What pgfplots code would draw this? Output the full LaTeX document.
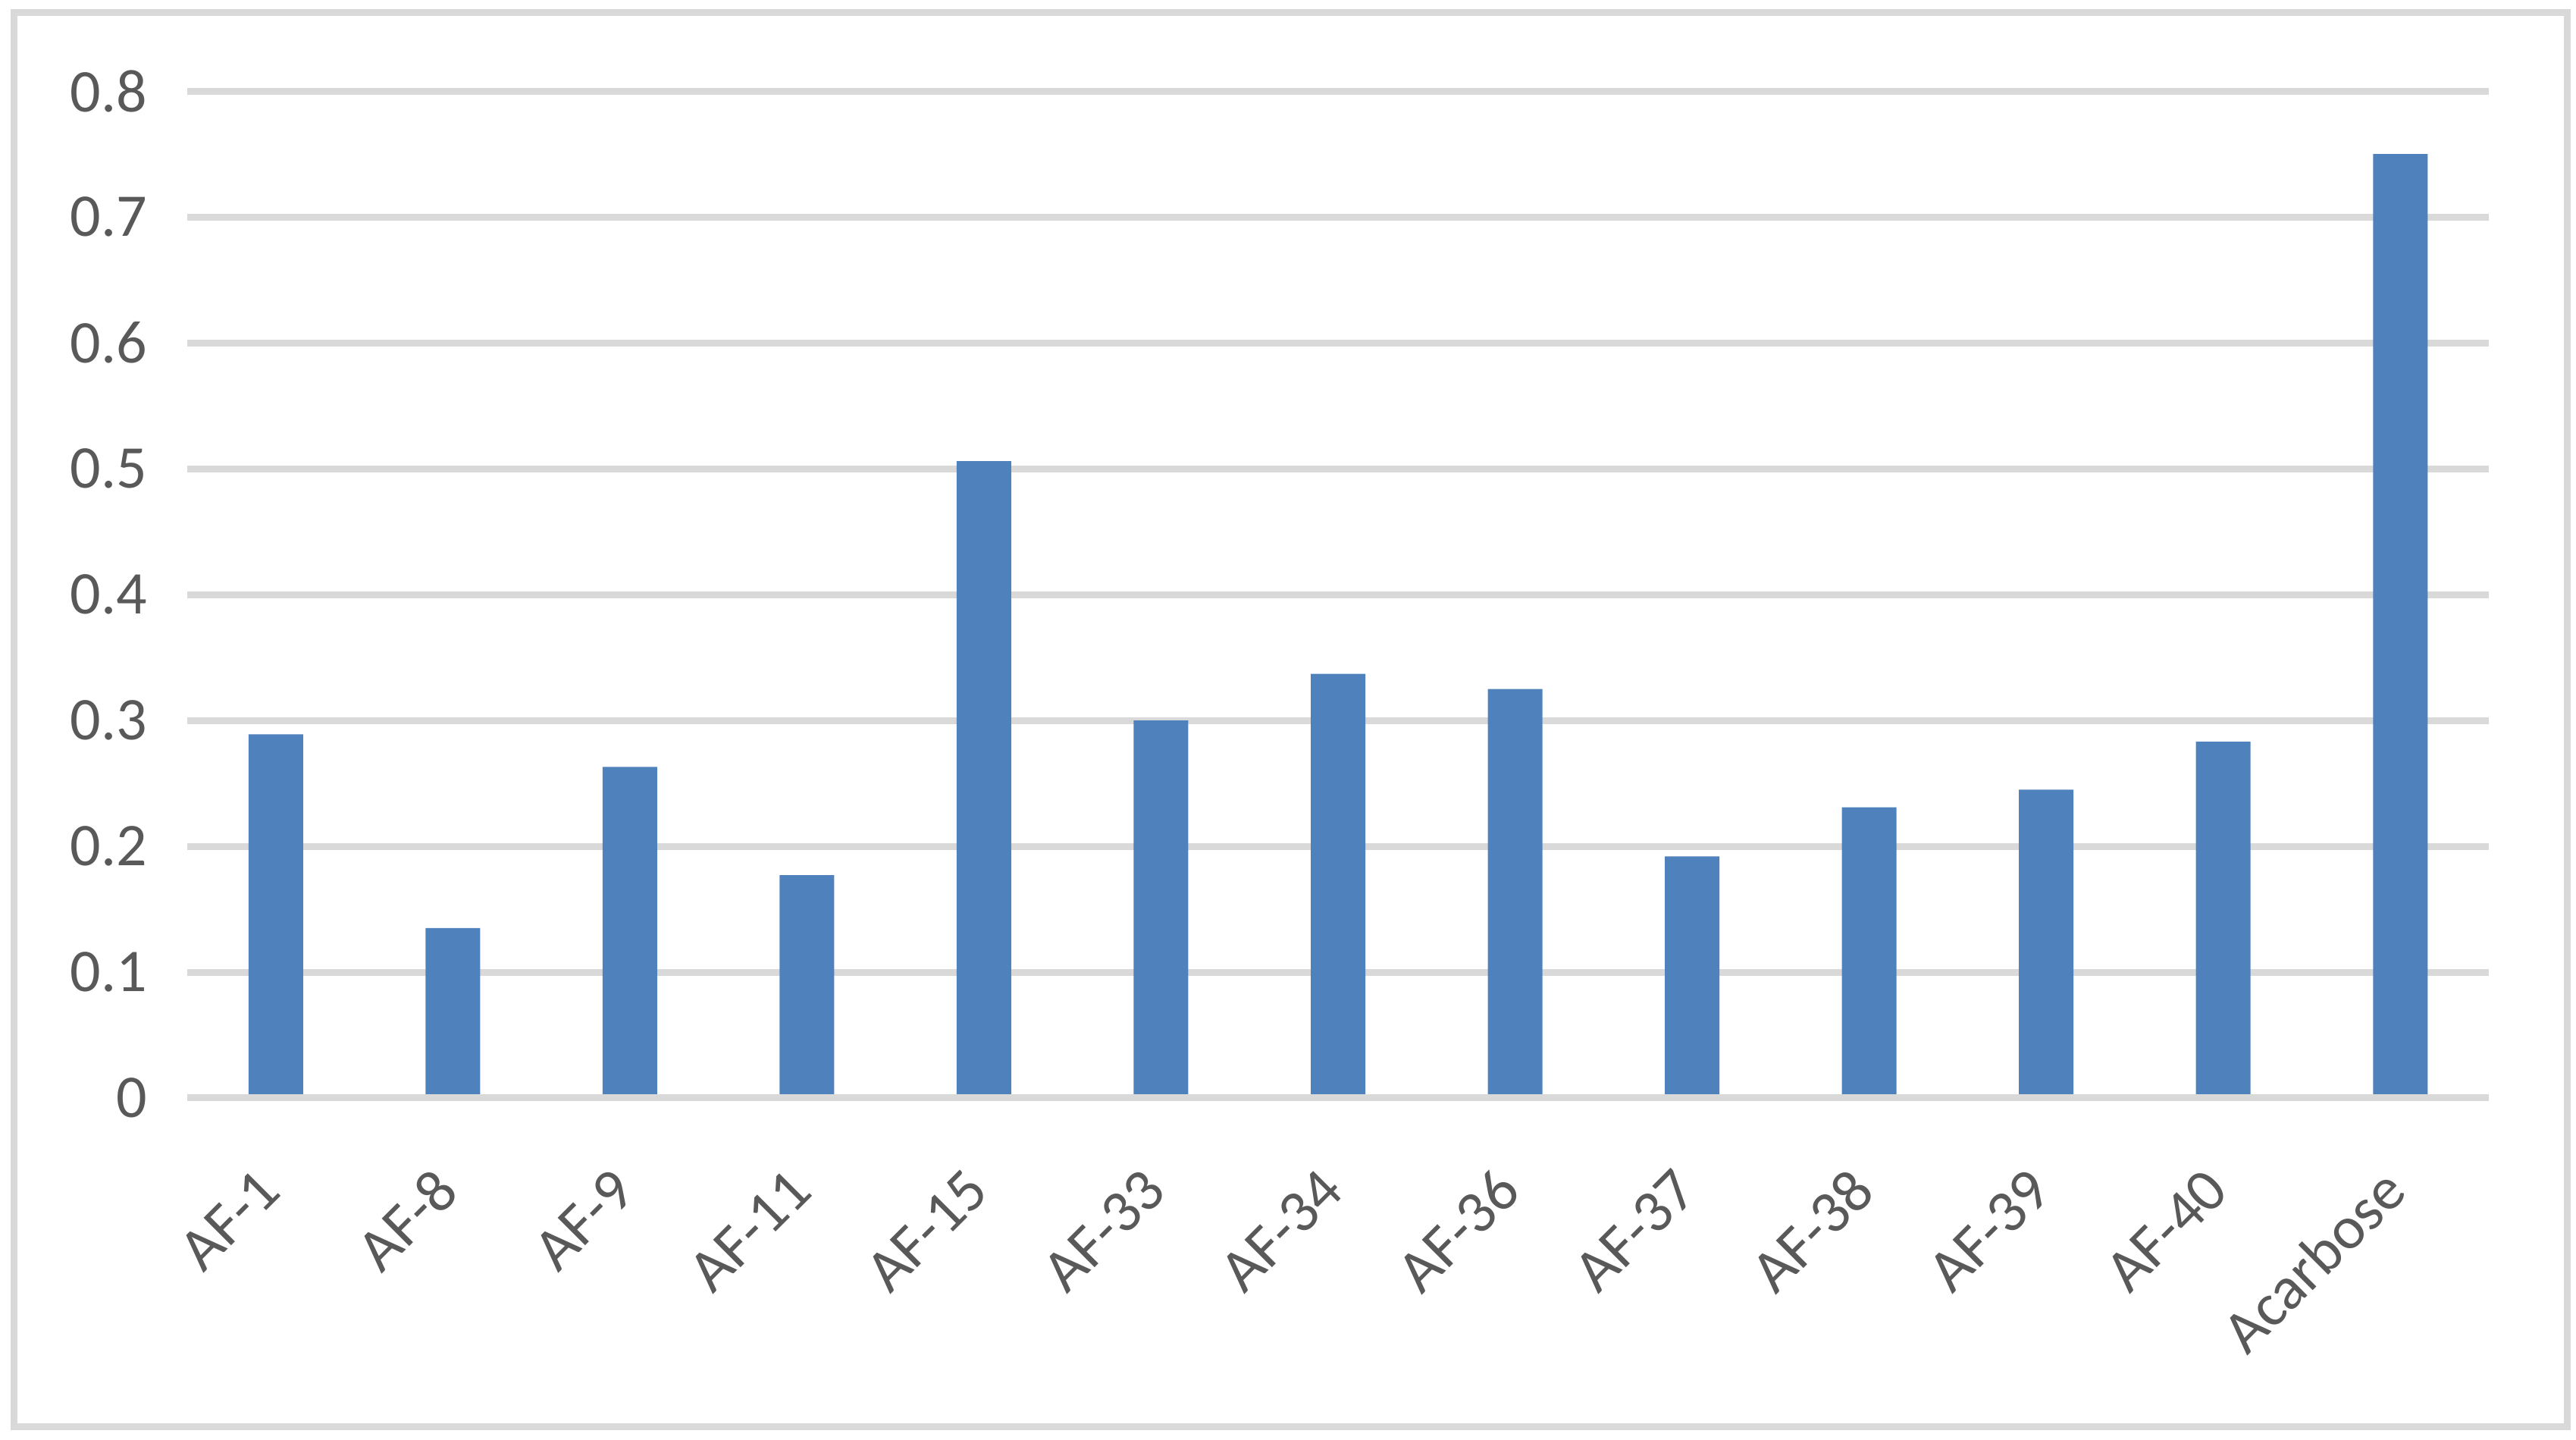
\documentclass[border=0pt]{standalone}
\usepackage{fontspec}
\setmainfont{Carlito}
\usepackage{pgfplots}
\pgfplotsset{compat=1.18}
\definecolor{barblue}{RGB}{79,129,189}
\definecolor{gridgray}{RGB}{217,217,217}
\definecolor{labgray}{RGB}{89,89,89}

\begin{document}
\fontsize{8pt}{9.6pt}\selectfont
\begin{tikzpicture}
% page size and outer chart frame
\path (-24.7pt,-45.1pt) rectangle (315.1pt,144.8pt);
\draw[gridgray, line width=0.9pt] (-22.85pt,-43.4pt) rectangle (313.9pt,143.15pt);
\begin{axis}[
    scale only axis, width=303.6pt, height=132.8pt,
    xmin=-0.5, xmax=12.5, ymin=0, ymax=0.8,
    ybar, bar width=7.2pt,
    axis line style={draw=none}, major tick length=0pt,
    ytick={0,0.1,0.2,0.3,0.4,0.5,0.6,0.7,0.8},
    ymajorgrids, grid style={gridgray, line width=0.9pt},
    xtick={0,1,2,3,4,5,6,7,8,9,10,11,12},
    xticklabels={AF-1, AF-8, AF-9, AF-11, AF-15, AF-33, AF-34, AF-36,
                 AF-37, AF-38, AF-39, AF-40, Acarbose},
    tick label style={font=\fontsize{8pt}{9.6pt}\selectfont, text=labgray},
    yticklabel style={anchor=east, inner sep=0pt, xshift=-5.1pt},
    xticklabel style={xshift=-0.7pt, yshift=-10.7pt, rotate=45, anchor=east, inner sep=0pt},
    /pgf/number format/assume math mode=true,
    clip=false,
]
\addplot[fill=barblue, draw=none] coordinates {
    (0,0.289) (1,0.135) (2,0.263) (3,0.177) (4,0.506) (5,0.300) (6,0.337)
    (7,0.325) (8,0.192) (9,0.231) (10,0.245) (11,0.283) (12,0.750)};
\draw[gridgray, line width=0.9pt] (axis cs:-0.5,0) -- (axis cs:12.5,0);
\end{axis}
\end{tikzpicture}
\end{document}
